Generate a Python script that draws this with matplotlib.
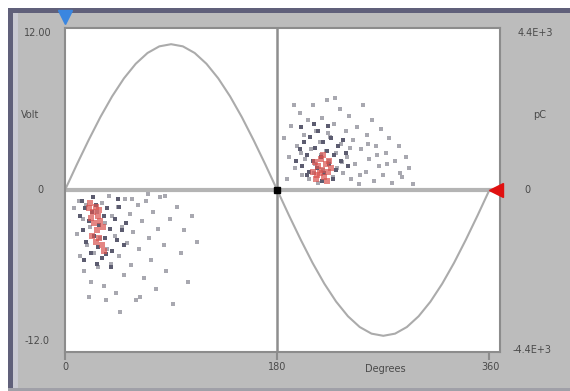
import matplotlib.pyplot as plt
from matplotlib.patches import Rectangle

# reference wave (Volt) every 10 degrees
wave_deg = list(range(0, 361, 10))
wave_volt = [0, 1.88, 3.69, 5.4, 6.94, 8.27, 9.35, 10.15, 10.64, 10.8,
             10.64, 10.15, 9.35, 8.27, 6.94, 5.4, 3.69, 1.88, 0,
             -1.88, -3.69, -5.4, -6.94, -8.27, -9.35, -10.15, -10.64, -10.8,
             -10.64, -10.15, -9.35, -8.27, -6.94, -5.4, -3.69, -1.88, 0]

# discharge pulses (degrees, pC)
pos_light_deg = [186, 190, 192, 195, 197, 199, 201, 203, 204, 206, 207, 209, 210, 212, 213, 215,
                 216, 218, 219, 221, 222, 224, 225, 227, 228, 230, 231, 233, 234, 236, 238, 239,
                 241, 243, 244, 246, 248, 249, 251, 253, 255, 256, 258, 260, 262, 264, 266, 268,
                 270, 272, 275, 277, 280, 283, 286, 289, 292, 295, 188, 194, 200, 211, 217, 223,
                 229, 235, 242, 250, 257, 265, 273, 284]
pos_light_pc = [1400, 900, 1750, 600, 1200, 2100, 400, 1500, 850, 1900, 300, 1100, 2300, 700, 1600, 200,
                1300, 1950, 550, 1050, 2450, 800, 1450, 350, 1800, 1000, 600, 2200, 1250, 450, 1600, 900,
                2000, 300, 1350, 700, 1700, 150, 1100, 2300, 500, 1500, 850, 1900, 250, 1200, 650, 1650,
                400, 1000, 1400, 200, 800, 1200, 350, 900, 600, 150, 300, 2300, 1000, 450, 950, 1550,
                2500, 750, 1150, 400, 1250, 950, 700, 450]
pos_dark_deg = [196, 199, 201, 203, 205, 207, 208, 210, 212, 214, 215, 217, 219, 220, 222, 224,
                226, 228, 230, 232, 234, 200, 211, 223, 205, 218, 227, 238, 240, 236]
pos_dark_pc = [800, 1100, 650, 1300, 950, 500, 1450, 800, 1150, 600, 1600, 900, 1300, 450, 1050, 700,
               1400, 950, 550, 1200, 800, 1700, 1800, 1750, 400, 250, 300, 1000, 650, 1350]
pos_red_deg = [210, 212, 214, 215, 217, 218, 220, 221, 223, 224, 226, 213, 219, 216, 222]
pos_red_pc = [500, 750, 400, 650, 850, 550, 350, 700, 500, 800, 600, 300, 950, 450, 250]

neg_light_deg = [8, 10, 12, 13, 15, 16, 18, 19, 21, 22, 24, 25, 27, 28, 30, 31, 33, 34, 36, 37,
                 39, 40, 42, 43, 45, 46, 48, 50, 51, 53, 55, 56, 58, 60, 62, 63, 65, 67, 69, 71,
                 73, 75, 77, 79, 81, 84, 86, 89, 92, 95, 98, 101, 104, 108, 112, 20, 35, 47, 57,
                 70, 85, 64]
neg_light_pc = [-500, -1200, -300, -1800, -800, -2200, -400, -1500, -1000, -2500, -200, -1700, -600,
                -2100, -1300, -350, -2600, -900, -1600, -150, -2000, -700, -1250, -2800, -450, -1800,
                -1000, -2300, -250, -1450, -650, -2050, -1150, -3000, -400, -1600, -850, -2400, -300,
                -1300, -1900, -600, -2700, -1050, -200, -1500, -2200, -800, -3100, -450, -1700, -1100,
                -2500, -700, -1400, -2900, -3000, -3300, -250, -100, -150, -2900]
neg_dark_deg = [13, 15, 17, 18, 20, 22, 23, 25, 26, 28, 29, 31, 33, 34, 36, 38, 40, 42, 44, 46,
                48, 16, 27, 39, 50, 14, 24, 45, 52, 35]
neg_dark_pc = [-700, -1100, -500, -1400, -850, -1700, -600, -1250, -400, -1550, -950, -1850, -700,
               -1300, -500, -1050, -1650, -800, -1350, -450, -1100, -1900, -2000, -2100, -1500, -300,
               -200, -250, -900, -1750]
neg_red_deg = [20, 22, 24, 25, 26, 27, 28, 29, 30, 31, 32, 23, 33, 26, 21, 29]
neg_red_pc = [-500, -750, -600, -900, -450, -1100, -700, -1300, -850, -1500, -1000, -1250, -1650,
              -1400, -350, -550]

W, H = 570, 391
fig = plt.figure(figsize=(W / 100, H / 100), dpi=100, facecolor='white')

# instrument panel frame
fig.patches.append(Rectangle((8 / W, 0), 1, 1 - 8 / H, transform=fig.transFigure,
                             facecolor='#bcbcbc', edgecolor='none', zorder=-10))
fig.patches.append(Rectangle((8 / W, 0), 5 / W, 1 - 8 / H, transform=fig.transFigure,
                             facecolor='#60607a', edgecolor='none', zorder=-9))
fig.patches.append(Rectangle((8 / W, 1 - 13 / H), 1, 5 / H, transform=fig.transFigure,
                             facecolor='#60607a', edgecolor='none', zorder=-9))
fig.patches.append(Rectangle((13 / W, 0), 5 / W, 1 - 13 / H, transform=fig.transFigure,
                             facecolor='#cacad2', edgecolor='none', zorder=-9))
fig.patches.append(Rectangle((8 / W, 0), 1, 3 / H, transform=fig.transFigure,
                             facecolor='#a0a0a8', edgecolor='none', zorder=-9))

ax = fig.add_axes([65 / W, 1 - 352 / H, 435 / W, 324 / H])
ax.set_facecolor('white')
ax.set_xlim(0, 369)
ax.set_ylim(-12, 12)
for s in ax.spines.values():
    s.set_color('#8c8c8c')
    s.set_linewidth(1.5)
ax.set_yticks([])
ax.set_xticks([0, 180, 360])
ax.set_xticklabels([])
ax.tick_params(axis='x', length=6, width=1.5, color='#8c8c8c', direction='out')

ax.plot(wave_deg, wave_volt, color='#ababab', lw=1.5, zorder=2)
ax.axhline(0, color='#b4b4b4', lw=3, zorder=1)
ax.axvline(180, color='#8e8e8e', lw=1.8, zorder=1)

ax2 = ax.twinx()
ax2.set_ylim(-4400, 4400)
ax2.set_yticks([])
for s in ax2.spines.values():
    s.set_visible(False)

ax2.scatter(pos_light_deg, pos_light_pc, s=5, marker='s', color='#a8a8b0', linewidths=0, zorder=3)
ax2.scatter(neg_light_deg, neg_light_pc, s=5, marker='s', color='#a8a8b0', linewidths=0, zorder=3)
ax2.scatter(pos_dark_deg, pos_dark_pc, s=6, marker='s', color='#5c5c70', linewidths=0, zorder=4)
ax2.scatter(neg_dark_deg, neg_dark_pc, s=6, marker='s', color='#5c5c70', linewidths=0, zorder=4)
ax2.scatter(pos_red_deg, pos_red_pc, s=18, marker='s', color='#d9534f', alpha=0.7, linewidths=0, zorder=5)
ax2.scatter(neg_red_deg, neg_red_pc, s=18, marker='s', color='#d9534f', alpha=0.7, linewidths=0, zorder=5)

# cursors
ax.plot([180], [0], marker='s', ms=4, color='black', zorder=6)
ax.plot([366], [0], marker='<', ms=10, color='#e01010', clip_on=False, zorder=6)
ax.plot([0], [12.8], marker='v', ms=10, color='#3a86e0', clip_on=False, zorder=6)

txt = dict(fontsize=7, color='#4a4a4a', ha='center', va='center')
fig.text(38 / W, 1 - 33 / H, '12.00', **txt)
fig.text(30 / W, 1 - 115 / H, 'Volt', **txt)
fig.text(40 / W, 1 - 190 / H, '0', **txt)
fig.text(37 / W, 1 - 341 / H, '-12.0', **txt)
fig.text(535 / W, 1 - 33 / H, '4.4E+3', **txt)
fig.text(540 / W, 1 - 115 / H, 'pC', **txt)
fig.text(527 / W, 1 - 190 / H, '0', **txt)
fig.text(532 / W, 1 - 350 / H, '-4.4E+3', **txt)
fig.text(65 / W, 1 - 367 / H, '0', **txt)
fig.text(277 / W, 1 - 367 / H, '180', **txt)
fig.text(385 / W, 1 - 369 / H, 'Degrees', **txt)
fig.text(490 / W, 1 - 367 / H, '360', **txt)

fig.savefig('out.png', dpi=100, facecolor=fig.get_facecolor())
